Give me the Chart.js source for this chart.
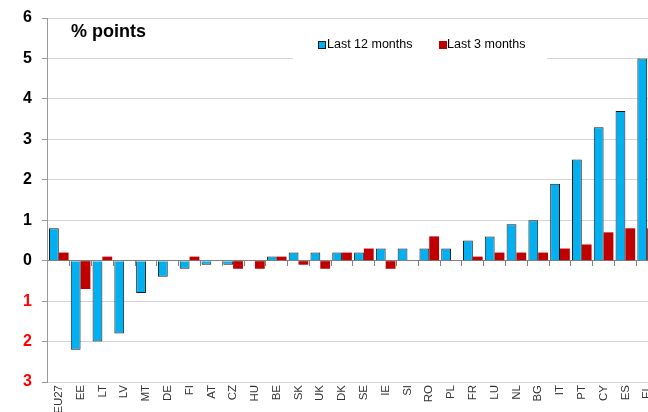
<!DOCTYPE html>
<html>
<head>
<meta charset="utf-8">
<script src="https://cdn.jsdelivr.net/npm/chart.js@4.4.1/dist/chart.umd.min.js"></script>
<style>
    html, body { margin: 0; padding: 0; overflow: hidden; background: #fff; }
    #wrap { width: 664px; height: 412px; }
</style>
</head>
<body>
<div id="wrap"><canvas id="hicpChart" width="664" height="412"></canvas></div>
<script>
const categories = ['EU27', 'EE', 'LT', 'LV', 'MT', 'DE', 'FI', 'AT', 'CZ', 'HU', 'BE', 'SK', 'UK', 'DK',
    'SE', 'IE', 'SI', 'RO', 'PL', 'FR', 'LU', 'NL', 'BG', 'IT', 'PT', 'CY', 'ES', 'EL'];
const last12Months = [0.8, -2.2, -2.0, -1.8, -0.8, -0.4, -0.2, -0.1, -0.1, 0, 0.1, 0.2, 0.2, 0.2,
    0.2, 0.3, 0.3, 0.3, 0.3, 0.5, 0.6, 0.9, 1.0, 1.9, 2.5, 3.3, 3.7, 5.0];
const last3Months = [0.2, -0.7, 0.1, 0, 0, 0, 0.1, 0, -0.2, -0.2, 0.1, -0.1, -0.2, 0.2,
    0.3, -0.2, 0, 0.6, 0, 0.1, 0.2, 0.2, 0.2, 0.3, 0.4, 0.7, 0.8, 0.8];
const yMin = -3;
const yMax = 6;
const seriesNames = ['Last 12 months', 'Last 3 months'];

const BLUE = '#00b0f0';
const RED = '#c00000';

// title + legend sit inside the plot, drawn on top of the grid
const overlayPlugin = {
    id: 'overlay',
    afterDraw(chart) {
        const ctx = chart.ctx;
        const area = chart.chartArea;
        ctx.save();

        ctx.fillStyle = '#000';
        ctx.font = 'bold 18px "Liberation Sans", Arial, sans-serif';
        ctx.textBaseline = 'alphabetic';
        ctx.fillText('% points', area.left + 23, 37);

        // white box behind legend hides the gridline
        ctx.fillStyle = '#fff';
        ctx.fillRect(293, 28, 254, 36);

        ctx.font = '12.5px "Liberation Sans", Arial, sans-serif';
        ctx.textBaseline = 'middle';
        const y = 45;

        ctx.fillStyle = BLUE;
        ctx.fillRect(318.5, 41.5, 7, 7);
        ctx.strokeStyle = '#1a1a1a';
        ctx.lineWidth = 1;
        ctx.strokeRect(318.5, 41.5, 7, 7);
        ctx.fillStyle = '#000';
        ctx.fillText(seriesNames[0], 327, y);

        ctx.fillStyle = RED;
        ctx.fillRect(439, 41, 8, 8);
        ctx.fillStyle = '#000';
        ctx.fillText(seriesNames[1], 447, y);

        ctx.restore();
    }
};

const canvas = document.getElementById('hicpChart');
const chart = new Chart(canvas.getContext('2d'), {
    type: 'bar',
    data: {
        labels: categories,
        datasets: [
            {
                label: seriesNames[0],
                data: last12Months,
                backgroundColor: BLUE,
                borderColor: '#1a1a1a',
                borderWidth: 1,
                barPercentage: 1,
                categoryPercentage: 0.9
            },
            {
                label: seriesNames[1],
                data: last3Months,
                backgroundColor: RED,
                borderWidth: 0,
                barPercentage: 1,
                categoryPercentage: 0.9
            }
        ]
    },
    options: {
        responsive: false,
        animation: false,
        layout: {
            padding: { top: 9, right: 2, left: 13, bottom: 0 }
        },
        plugins: {
            legend: { display: false },
            tooltip: { enabled: false }
        },
        scales: {
            x: {
                type: 'category',
                position: { y: 0 },
                offset: true,
                ticks: { display: false },
                grid: {
                    offset: true,
                    drawOnChartArea: false,
                    drawTicks: true,
                    tickLength: 5,
                    color: '#808080'
                },
                border: { color: '#808080', width: 1 }
            },
            xLabels: {
                type: 'category',
                position: 'bottom',
                labels: categories,
                offset: true,
                grid: { display: false, drawTicks: false },
                border: { display: false },
                afterFit: (scale) => { scale.height = 30; },
                ticks: {
                    autoSkip: false,
                    minRotation: 90,
                    maxRotation: 90,
                    padding: 3,
                    color: '#333',
                    font: { family: '"Liberation Sans", Arial, sans-serif', size: 11.5 }
                }
            },
            y: {
                min: yMin,
                max: yMax,
                ticks: {
                    stepSize: 1,
                    padding: 10,
                    color: (c) => c.tick.value < 0 ? '#ff0000' : '#000',
                    font: { family: '"Liberation Sans", Arial, sans-serif', size: 16, weight: 'bold', lineHeight: 1 },
                    callback: (v) => Math.abs(v)
                },
                grid: {
                    color: '#d4d4d4',
                    tickColor: '#999',
                    tickLength: 6
                },
                border: { color: '#999' }
            }
        }
    },
    plugins: [overlayPlugin]
});
</script>
</body>
</html>
